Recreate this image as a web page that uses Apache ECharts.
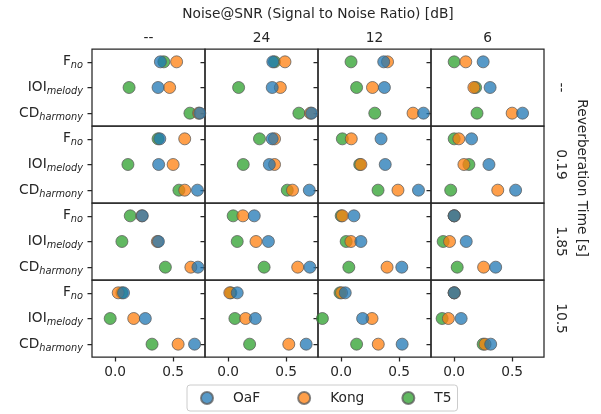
<!DOCTYPE html>
<html><head><meta charset="utf-8">
<script src="https://cdn.jsdelivr.net/npm/echarts@6/dist/echarts.min.js"></script>
<style>html,body{margin:0;padding:0;background:#fff}#c{width:601px;height:414px}</style>
</head><body><div id="c"></div>
<script>
// Columns: Noise@SNR levels; rows: reverberation time levels
const snrLevels = ['--', '24', '12', '6'];
const reverbLevels = ['--', '0.19', '1.85', '10.5'];
const metrics = ['F', 'IOI', 'CD'];
const metricSubs = ['no', 'melody', 'harmony'];
const methods = ['OaF', 'Kong', 'T5'];
const xTicks = [0, 0.5];

// values[reverbRow][snrCol] = [F_no, IOI_melody, CD_harmony]
const oafValues = [
  [[0.39, 0.37, 0.73], [0.385, 0.38, 0.72], [0.367, 0.373, 0.71], [0.25, 0.31, 0.59]],
  [[0.385, 0.375, 0.71], [0.38, 0.355, 0.70], [0.344, 0.38, 0.667], [0.15, 0.30, 0.53]],
  [[0.234, 0.373, 0.714], [0.225, 0.347, 0.705], [0.11, 0.17, 0.523], [0.0, 0.104, 0.358]],
  [[0.072, 0.26, 0.685], [0.078, 0.234, 0.673], [0.035, 0.185, 0.526], [0.0, 0.06, 0.315]]
];
const kongValues = [
  [[0.53, 0.47, 0.72], [0.49, 0.45, 0.71], [0.40, 0.27, 0.62], [0.10, 0.17, 0.50]],
  [[0.60, 0.50, 0.60], [0.40, 0.40, 0.555], [0.087, 0.17, 0.49], [0.04, 0.084, 0.376]],
  [[0.23, 0.364, 0.653], [0.127, 0.24, 0.60], [0.01, 0.084, 0.396], [0.0, -0.04, 0.254]],
  [[0.026, 0.16, 0.543], [0.014, 0.15, 0.523], [0.003, 0.266, 0.32], [0.0, -0.05, 0.266]]
];
const t5Values = [
  [[0.42, 0.12, 0.645], [0.40, 0.09, 0.61], [0.085, 0.133, 0.29], [0.0, 0.185, 0.197]],
  [[0.37, 0.11, 0.55], [0.27, 0.13, 0.51], [0.01, 0.16, 0.318], [0.0, 0.127, -0.03]],
  [[0.13, 0.058, 0.433], [0.043, 0.078, 0.31], [0.0, 0.043, 0.066], [0.0, -0.095, 0.026]],
  [[0.058, -0.043, 0.318], [0.023, 0.058, 0.185], [-0.01, -0.162, 0.133], [0.0, -0.104, 0.25]]
];

const colors = {OaF: '#1f77b4', Kong: '#ff7f0e', T5: '#2ca02c'};
const valuesBy = {OaF: oafValues, Kong: kongValues, T5: t5Values};
const drawOrder = ['T5', 'Kong', 'OaF'];

const FONT = 'DejaVu Sans';
const TXT = '#262626';
const L0 = 92, T0 = 49, PW = 113, PH = 77;

const grids = [], xAxes = [], yAxes = [], series = [];
let idx = 0;
for (let r = 0; r < 4; r++) {
  for (let c = 0; c < 4; c++) {
    grids.push({left: L0 + c * PW, top: T0 + r * PH, width: PW, height: PH,
      show: true, borderColor: TXT, borderWidth: 1.25, backgroundColor: 'transparent'});
    const bottom = r === 3;
    xAxes.push({type: 'value', gridIndex: idx, min: -0.2, max: 0.775, position: 'bottom',
      axisLine: {show: false, onZero: false}, splitLine: {show: false},
      axisTick: {show: bottom, customValues: xTicks, length: 4.5, lineStyle: {color: TXT, width: 1.25}},
      axisLabel: {show: bottom, customValues: xTicks, margin: 8, color: TXT, fontSize: 13.75, fontFamily: FONT,
        formatter: v => v.toFixed(1)}
    });
    yAxes.push({type: 'category', gridIndex: idx, data: metrics, inverse: true, position: 'left',
      axisLine: {show: false, onZero: false}, splitLine: {show: false},
      axisTick: {show: true, alignWithLabel: true, length: 4.5, lineStyle: {color: TXT, width: 1.25}},
      axisLabel: {show: c === 0, margin: 9,
        formatter: (v) => '{m|' + v + '}{s|' + metricSubs[metrics.indexOf(v)] + '}',
        rich: {
          m: {fontSize: 13.75, color: TXT, fontFamily: FONT},
          s: {fontSize: 9.8, color: TXT, fontFamily: FONT, fontStyle: 'italic', padding: [8, 0, 0, 0]}
        }}
    });
    drawOrder.forEach(m => {
      const vals = valuesBy[m][r][c];
      series.push({name: m, type: 'scatter', xAxisIndex: idx, yAxisIndex: idx,
        symbol: 'circle', symbolSize: 12, clip: false,
        itemStyle: {color: colors[m], opacity: 0.75, borderColor: '#5a5a5a', borderWidth: 1},
        emphasis: {disabled: true},
        data: vals.map((v, k) => [v, metrics[k]])
      });
    });
    idx++;
  }
}

const graphic = [];
const txt = (x, y, s, rot) => graphic.push({type: 'text', x, y, rotation: rot || 0,
  style: {text: s, fill: TXT, font: '13.75px "' + FONT + '"', align: 'center', verticalAlign: 'middle'}});
txt(L0 + 2 * PW, 14, 'Noise@SNR (Signal to Noise Ratio) [dB]');
snrLevels.forEach((s, c) => txt(L0 + c * PW + PW / 2, 38, s));
reverbLevels.forEach((s, r) => txt(561, T0 + r * PH + PH / 2, s, -Math.PI / 2));
txt(582, 178, 'Reverberation Time [s]', -Math.PI / 2);

const chart = echarts.init(document.getElementById('c'));
chart.setOption({
  animation: false,
  backgroundColor: '#fff',
  grid: grids, xAxis: xAxes, yAxis: yAxes, series,
  graphic,
  legend: {data: methods, left: 187, top: 385, icon: 'circle', itemWidth: 12, itemHeight: 12,
    itemGap: 37, padding: [6, 6, 6, 13], borderColor: '#cccccc', borderWidth: 1, borderRadius: 3,
    textStyle: {color: TXT, fontSize: 13.75, fontFamily: FONT, padding: [0, 0, 0, 15]}}
});
</script></body></html>
